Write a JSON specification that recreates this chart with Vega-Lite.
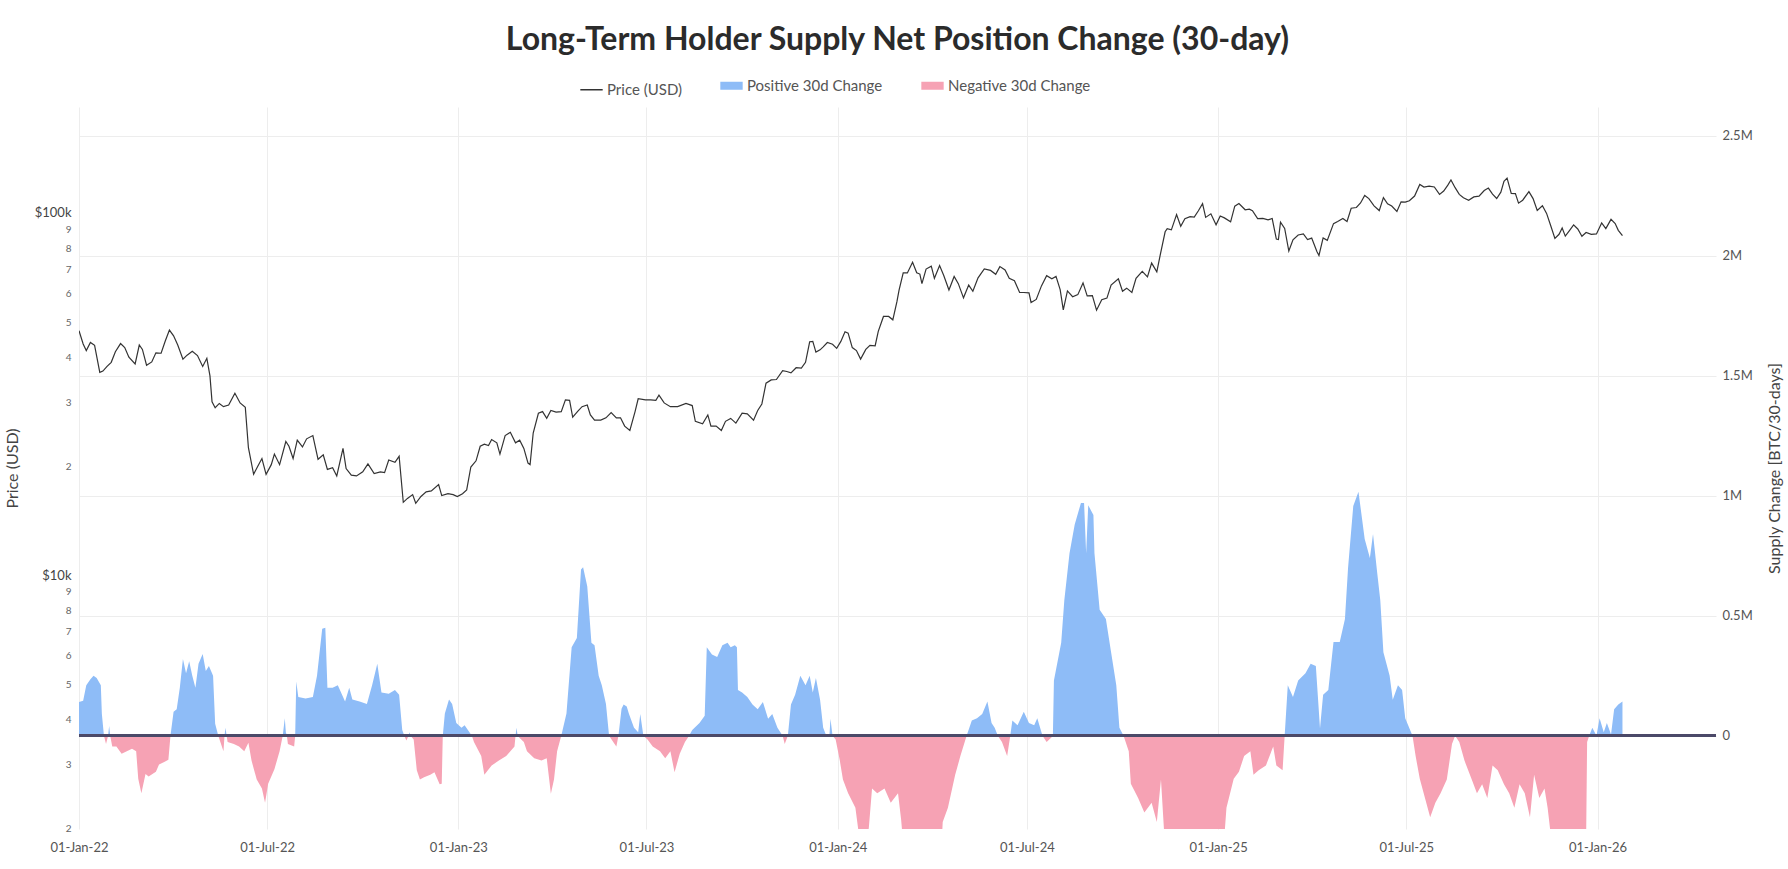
{
"$schema": "https://vega.github.io/schema/vega-lite/v6.json",
"width": 1637, "height": 722,
"autosize": {"type": "none"},
"padding": {"left": 79, "top": 107, "right": 72, "bottom": 40},
"background": "white",
"title": {"text": "Long-Term Holder Supply Net Position Change (30-day)", "font": "Lato", "fontSize": 32, "fontWeight": "bold", "color": "#2b2b2b", "anchor": "middle", "baseline": "alphabetic", "offset": -4},
"datasets": {
"price": [
{"date":"2022-01-01","price":47300},{"date":"2022-01-05","price":43500},{"date":"2022-01-08","price":41700},{"date":"2022-01-12","price":43900},{"date":"2022-01-16","price":43100},{"date":"2022-01-21","price":36300},{"date":"2022-01-24","price":36600},{"date":"2022-01-28","price":37700},{"date":"2022-02-01","price":38700},{"date":"2022-02-05","price":41400},{"date":"2022-02-10","price":43600},{"date":"2022-02-14","price":42500},{"date":"2022-02-18","price":40000},{"date":"2022-02-24","price":38300},{"date":"2022-02-28","price":43200},{"date":"2022-03-03","price":42000},{"date":"2022-03-07","price":38000},{"date":"2022-03-12","price":38800},{"date":"2022-03-16","price":41100},{"date":"2022-03-21","price":41000},{"date":"2022-03-25","price":44300},{"date":"2022-03-29","price":47500},{"date":"2022-04-02","price":45800},{"date":"2022-04-06","price":43200},{"date":"2022-04-11","price":39500},{"date":"2022-04-15","price":40500},{"date":"2022-04-20","price":41500},{"date":"2022-04-25","price":40400},{"date":"2022-04-30","price":37700},{"date":"2022-05-04","price":39700},{"date":"2022-05-07","price":35500},{"date":"2022-05-09","price":30100},{"date":"2022-05-12","price":29000},{"date":"2022-05-16","price":29800},{"date":"2022-05-20","price":29200},{"date":"2022-05-25","price":29500},{"date":"2022-05-31","price":31800},{"date":"2022-06-05","price":29900},{"date":"2022-06-10","price":29100},{"date":"2022-06-13","price":22500},{"date":"2022-06-18","price":19000},{"date":"2022-06-22","price":20000},{"date":"2022-06-26","price":21000},{"date":"2022-06-30","price":19000},{"date":"2022-07-05","price":20200},{"date":"2022-07-08","price":21600},{"date":"2022-07-13","price":20200},{"date":"2022-07-19","price":23400},{"date":"2022-07-22","price":22700},{"date":"2022-07-26","price":21000},{"date":"2022-07-30","price":23600},{"date":"2022-08-04","price":22600},{"date":"2022-08-08","price":23800},{"date":"2022-08-14","price":24300},{"date":"2022-08-19","price":20900},{"date":"2022-08-24","price":21500},{"date":"2022-08-28","price":19600},{"date":"2022-09-02","price":19800},{"date":"2022-09-06","price":18800},{"date":"2022-09-12","price":22400},{"date":"2022-09-15","price":19700},{"date":"2022-09-20","price":18900},{"date":"2022-09-25","price":18800},{"date":"2022-10-01","price":19300},{"date":"2022-10-06","price":20300},{"date":"2022-10-12","price":19100},{"date":"2022-10-18","price":19300},{"date":"2022-10-22","price":19200},{"date":"2022-10-26","price":20800},{"date":"2022-11-01","price":20500},{"date":"2022-11-05","price":21300},{"date":"2022-11-09","price":15900},{"date":"2022-11-13","price":16300},{"date":"2022-11-18","price":16700},{"date":"2022-11-21","price":15800},{"date":"2022-11-26","price":16500},{"date":"2022-12-01","price":17000},{"date":"2022-12-06","price":17100},{"date":"2022-12-13","price":17800},{"date":"2022-12-16","price":16600},{"date":"2022-12-22","price":16800},{"date":"2022-12-27","price":16700},{"date":"2022-12-31","price":16500},
{"date":"2023-01-05","price":16800},{"date":"2023-01-09","price":17200},{"date":"2023-01-13","price":19900},{"date":"2023-01-18","price":20700},{"date":"2023-01-22","price":22700},{"date":"2023-01-26","price":23000},{"date":"2023-01-30","price":22800},{"date":"2023-02-02","price":23700},{"date":"2023-02-07","price":23200},{"date":"2023-02-10","price":21600},{"date":"2023-02-15","price":24300},{"date":"2023-02-20","price":24800},{"date":"2023-02-25","price":23200},{"date":"2023-03-01","price":23600},{"date":"2023-03-05","price":22400},{"date":"2023-03-09","price":20400},{"date":"2023-03-11","price":20200},{"date":"2023-03-14","price":24700},{"date":"2023-03-19","price":28000},{"date":"2023-03-23","price":28300},{"date":"2023-03-27","price":27100},{"date":"2023-03-31","price":28500},{"date":"2023-04-05","price":28200},{"date":"2023-04-10","price":28300},{"date":"2023-04-14","price":30500},{"date":"2023-04-18","price":30400},{"date":"2023-04-21","price":27300},{"date":"2023-04-26","price":28400},{"date":"2023-04-30","price":29200},{"date":"2023-05-05","price":29500},{"date":"2023-05-08","price":27700},{"date":"2023-05-12","price":26800},{"date":"2023-05-18","price":26800},{"date":"2023-05-23","price":27200},{"date":"2023-05-28","price":28100},{"date":"2023-06-02","price":27200},{"date":"2023-06-06","price":27200},{"date":"2023-06-10","price":25800},{"date":"2023-06-15","price":25100},{"date":"2023-06-20","price":28300},{"date":"2023-06-23","price":30700},{"date":"2023-06-30","price":30500},{"date":"2023-07-05","price":30500},{"date":"2023-07-10","price":30400},{"date":"2023-07-13","price":31400},{"date":"2023-07-18","price":29900},{"date":"2023-07-24","price":29200},{"date":"2023-07-31","price":29200},{"date":"2023-08-08","price":29800},{"date":"2023-08-14","price":29400},{"date":"2023-08-17","price":26600},{"date":"2023-08-24","price":26200},{"date":"2023-08-29","price":27700},{"date":"2023-09-01","price":25800},{"date":"2023-09-06","price":25800},{"date":"2023-09-11","price":25100},{"date":"2023-09-15","price":26600},{"date":"2023-09-20","price":27100},{"date":"2023-09-25","price":26300},{"date":"2023-10-01","price":28000},{"date":"2023-10-06","price":27900},{"date":"2023-10-12","price":26800},{"date":"2023-10-16","price":28500},{"date":"2023-10-20","price":29700},{"date":"2023-10-24","price":33900},{"date":"2023-10-29","price":34600},{"date":"2023-11-03","price":34700},{"date":"2023-11-09","price":36700},{"date":"2023-11-13","price":36500},{"date":"2023-11-17","price":36200},{"date":"2023-11-22","price":37400},{"date":"2023-11-27","price":37300},{"date":"2023-12-01","price":38700},{"date":"2023-12-05","price":44100},{"date":"2023-12-08","price":44200},{"date":"2023-12-11","price":41300},{"date":"2023-12-15","price":41900},{"date":"2023-12-18","price":42700},{"date":"2023-12-22","price":43900},{"date":"2023-12-27","price":43400},{"date":"2023-12-31","price":42300},
{"date":"2024-01-04","price":44200},{"date":"2024-01-08","price":47000},{"date":"2024-01-11","price":46600},{"date":"2024-01-15","price":42500},{"date":"2024-01-19","price":41700},{"date":"2024-01-23","price":39500},{"date":"2024-01-28","price":42000},{"date":"2024-02-01","price":43100},{"date":"2024-02-06","price":43000},{"date":"2024-02-09","price":47100},{"date":"2024-02-14","price":51800},{"date":"2024-02-19","price":51800},{"date":"2024-02-23","price":50700},{"date":"2024-02-27","price":57000},{"date":"2024-02-29","price":61200},{"date":"2024-03-04","price":68300},{"date":"2024-03-08","price":68300},{"date":"2024-03-13","price":73100},{"date":"2024-03-17","price":68400},{"date":"2024-03-20","price":67800},{"date":"2024-03-22","price":63800},{"date":"2024-03-26","price":70000},{"date":"2024-03-31","price":71300},{"date":"2024-04-03","price":66000},{"date":"2024-04-08","price":71600},{"date":"2024-04-12","price":67200},{"date":"2024-04-17","price":61300},{"date":"2024-04-22","price":66800},{"date":"2024-04-26","price":63800},{"date":"2024-05-01","price":58300},{"date":"2024-05-06","price":63200},{"date":"2024-05-10","price":60800},{"date":"2024-05-15","price":66200},{"date":"2024-05-21","price":70100},{"date":"2024-05-27","price":69400},{"date":"2024-06-01","price":67700},{"date":"2024-06-05","price":71100},{"date":"2024-06-10","price":69600},{"date":"2024-06-14","price":66000},{"date":"2024-06-19","price":65000},{"date":"2024-06-24","price":60300},{"date":"2024-06-28","price":60300},{"date":"2024-07-03","price":60200},{"date":"2024-07-05","price":56600},{"date":"2024-07-10","price":57700},{"date":"2024-07-15","price":62900},{"date":"2024-07-20","price":67100},{"date":"2024-07-25","price":65800},{"date":"2024-07-29","price":66800},{"date":"2024-08-02","price":61400},{"date":"2024-08-05","price":54000},{"date":"2024-08-09","price":60900},{"date":"2024-08-14","price":58700},{"date":"2024-08-19","price":59500},{"date":"2024-08-24","price":64100},{"date":"2024-08-28","price":59000},{"date":"2024-09-02","price":59100},{"date":"2024-09-06","price":53900},{"date":"2024-09-11","price":57600},{"date":"2024-09-16","price":58200},{"date":"2024-09-20","price":63200},{"date":"2024-09-27","price":65800},{"date":"2024-10-01","price":60800},{"date":"2024-10-05","price":62000},{"date":"2024-10-10","price":60300},{"date":"2024-10-14","price":66000},{"date":"2024-10-20","price":69000},{"date":"2024-10-25","price":66600},{"date":"2024-10-29","price":72700},{"date":"2024-11-03","price":68800},{"date":"2024-11-06","price":75900},{"date":"2024-11-11","price":88700},{"date":"2024-11-13","price":90500},{"date":"2024-11-17","price":89800},{"date":"2024-11-22","price":98900},{"date":"2024-11-26","price":91900},{"date":"2024-11-30","price":96400},{"date":"2024-12-05","price":97700},{"date":"2024-12-09","price":97400},{"date":"2024-12-13","price":101400},{"date":"2024-12-17","price":106100},{"date":"2024-12-20","price":97200},{"date":"2024-12-25","price":99400},{"date":"2024-12-30","price":92700},
{"date":"2025-01-03","price":98100},{"date":"2025-01-07","price":96900},{"date":"2025-01-13","price":94500},{"date":"2025-01-17","price":104400},{"date":"2025-01-21","price":106100},{"date":"2025-01-27","price":102000},{"date":"2025-01-31","price":102400},{"date":"2025-02-03","price":101400},{"date":"2025-02-08","price":96500},{"date":"2025-02-13","price":96600},{"date":"2025-02-18","price":95700},{"date":"2025-02-22","price":96500},{"date":"2025-02-26","price":84700},{"date":"2025-02-28","price":84400},{"date":"2025-03-02","price":94300},{"date":"2025-03-06","price":90600},{"date":"2025-03-10","price":78500},{"date":"2025-03-14","price":84300},{"date":"2025-03-19","price":86900},{"date":"2025-03-24","price":87500},{"date":"2025-03-28","price":84400},{"date":"2025-04-01","price":85200},{"date":"2025-04-06","price":78300},{"date":"2025-04-08","price":76300},{"date":"2025-04-12","price":85300},{"date":"2025-04-16","price":84000},{"date":"2025-04-22","price":93400},{"date":"2025-04-26","price":94700},{"date":"2025-05-01","price":96500},{"date":"2025-05-05","price":94700},{"date":"2025-05-09","price":103000},{"date":"2025-05-14","price":103500},{"date":"2025-05-18","price":106500},{"date":"2025-05-22","price":111700},{"date":"2025-05-26","price":109500},{"date":"2025-05-31","price":104600},{"date":"2025-06-05","price":101500},{"date":"2025-06-09","price":110200},{"date":"2025-06-13","price":106000},{"date":"2025-06-17","price":104500},{"date":"2025-06-22","price":100900},{"date":"2025-06-26","price":107300},{"date":"2025-06-30","price":107100},{"date":"2025-07-04","price":108000},{"date":"2025-07-09","price":111300},{"date":"2025-07-14","price":119800},{"date":"2025-07-18","price":117900},{"date":"2025-07-23","price":118600},{"date":"2025-07-28","price":117900},{"date":"2025-08-02","price":112500},{"date":"2025-08-06","price":114900},{"date":"2025-08-10","price":119300},{"date":"2025-08-13","price":123300},{"date":"2025-08-17","price":117400},{"date":"2025-08-21","price":112500},{"date":"2025-08-25","price":110100},{"date":"2025-08-30","price":108400},{"date":"2025-09-04","price":110700},{"date":"2025-09-09","price":111200},{"date":"2025-09-14","price":115300},{"date":"2025-09-18","price":117100},{"date":"2025-09-22","price":112700},{"date":"2025-09-26","price":109600},{"date":"2025-09-30","price":114100},{"date":"2025-10-03","price":122200},{"date":"2025-10-06","price":124700},{"date":"2025-10-10","price":113200},{"date":"2025-10-14","price":113000},{"date":"2025-10-17","price":106400},{"date":"2025-10-21","price":108400},{"date":"2025-10-27","price":114500},{"date":"2025-10-31","price":109500},{"date":"2025-11-04","price":101600},{"date":"2025-11-09","price":104700},{"date":"2025-11-13","price":99700},{"date":"2025-11-17","price":92200},{"date":"2025-11-21","price":85000},{"date":"2025-11-25","price":87300},{"date":"2025-11-28","price":90900},{"date":"2025-12-01","price":86300},{"date":"2025-12-05","price":89400},{"date":"2025-12-09","price":92700},{"date":"2025-12-13","price":90300},{"date":"2025-12-17","price":86200},{"date":"2025-12-21","price":88300},{"date":"2025-12-26","price":87300},{"date":"2025-12-31","price":87500},{"date":"2026-01-05","price":93800},{"date":"2026-01-09","price":90500},{"date":"2026-01-14","price":96000},{"date":"2026-01-18","price":93500},{"date":"2026-01-21","price":89500},{"date":"2026-01-25","price":86500}
],
"supply": [
{"date":"2022-01-01","change":140000},{"date":"2022-01-05","change":145000},{"date":"2022-01-08","change":210000},{"date":"2022-01-12","change":235000},{"date":"2022-01-15","change":250000},{"date":"2022-01-18","change":240000},{"date":"2022-01-22","change":210000},{"date":"2022-01-23","change":90000},{"date":"2022-01-25","change":0},{"date":"2022-01-27","change":-35000},{"date":"2022-01-29","change":0},{"date":"2022-01-30","change":40000},{"date":"2022-01-31","change":0},{"date":"2022-02-02","change":-45000},{"date":"2022-02-06","change":-45000},{"date":"2022-02-11","change":-75000},{"date":"2022-02-16","change":-65000},{"date":"2022-02-21","change":-55000},{"date":"2022-02-25","change":-65000},{"date":"2022-02-27","change":-180000},{"date":"2022-03-02","change":-240000},{"date":"2022-03-06","change":-160000},{"date":"2022-03-09","change":-170000},{"date":"2022-03-16","change":-150000},{"date":"2022-03-19","change":-120000},{"date":"2022-03-24","change":-110000},{"date":"2022-03-28","change":-100000},{"date":"2022-03-30","change":0},{"date":"2022-04-02","change":100000},{"date":"2022-04-05","change":110000},{"date":"2022-04-08","change":200000},{"date":"2022-04-11","change":320000},{"date":"2022-04-14","change":260000},{"date":"2022-04-17","change":310000},{"date":"2022-04-20","change":250000},{"date":"2022-04-23","change":200000},{"date":"2022-04-26","change":300000},{"date":"2022-04-30","change":340000},{"date":"2022-05-03","change":270000},{"date":"2022-05-06","change":290000},{"date":"2022-05-10","change":250000},{"date":"2022-05-12","change":50000},{"date":"2022-05-15","change":0},{"date":"2022-05-17","change":-26000},{"date":"2022-05-20","change":-65000},{"date":"2022-05-21","change":0},{"date":"2022-05-22","change":33000},{"date":"2022-05-23","change":0},{"date":"2022-05-24","change":-26000},{"date":"2022-05-30","change":-35000},{"date":"2022-06-04","change":-45000},{"date":"2022-06-09","change":-65000},{"date":"2022-06-13","change":-30000},{"date":"2022-06-16","change":-104000},{"date":"2022-06-21","change":-183000},{"date":"2022-06-26","change":-220000},{"date":"2022-06-29","change":-280000},{"date":"2022-07-02","change":-200000},{"date":"2022-07-08","change":-140000},{"date":"2022-07-13","change":-65000},{"date":"2022-07-16","change":0},{"date":"2022-07-18","change":73000},{"date":"2022-07-19","change":14000},{"date":"2022-07-20","change":0},{"date":"2022-07-21","change":-35000},{"date":"2022-07-27","change":-45000},{"date":"2022-07-28","change":0},{"date":"2022-07-29","change":226000},{"date":"2022-07-31","change":161000},{"date":"2022-08-07","change":155000},{"date":"2022-08-14","change":161000},{"date":"2022-08-18","change":250000},{"date":"2022-08-23","change":446000},{"date":"2022-08-26","change":450000},{"date":"2022-08-28","change":200000},{"date":"2022-09-02","change":200000},{"date":"2022-09-07","change":210000},{"date":"2022-09-14","change":142000},{"date":"2022-09-18","change":200000},{"date":"2022-09-21","change":151000},{"date":"2022-09-28","change":142000},{"date":"2022-10-05","change":132000},{"date":"2022-10-10","change":210000},{"date":"2022-10-15","change":300000},{"date":"2022-10-19","change":180000},{"date":"2022-10-26","change":175000},{"date":"2022-11-01","change":190000},{"date":"2022-11-05","change":171000},{"date":"2022-11-08","change":24000},{"date":"2022-11-10","change":0},{"date":"2022-11-12","change":-20000},{"date":"2022-11-14","change":0},{"date":"2022-11-15","change":14000},{"date":"2022-11-16","change":0},{"date":"2022-11-19","change":-16000},{"date":"2022-11-22","change":-144000},{"date":"2022-11-25","change":-183000},{"date":"2022-11-29","change":-173000},{"date":"2022-12-05","change":-163000},{"date":"2022-12-09","change":-153000},{"date":"2022-12-14","change":-203000},{"date":"2022-12-16","change":-200000},{"date":"2022-12-17","change":0},{"date":"2022-12-19","change":92000},{"date":"2022-12-23","change":151000},{"date":"2022-12-26","change":132000},{"date":"2022-12-30","change":53000},
{"date":"2023-01-04","change":33000},{"date":"2023-01-07","change":43000},{"date":"2023-01-14","change":0},{"date":"2023-01-16","change":-26000},{"date":"2023-01-23","change":-85000},{"date":"2023-01-26","change":-163000},{"date":"2023-02-02","change":-124000},{"date":"2023-02-09","change":-104000},{"date":"2023-02-16","change":-85000},{"date":"2023-02-24","change":-45000},{"date":"2023-02-25","change":0},{"date":"2023-02-26","change":33000},{"date":"2023-02-27","change":0},{"date":"2023-03-01","change":-10000},{"date":"2023-03-05","change":-26000},{"date":"2023-03-08","change":-65000},{"date":"2023-03-15","change":-94000},{"date":"2023-03-22","change":-104000},{"date":"2023-03-27","change":-94000},{"date":"2023-03-31","change":-242000},{"date":"2023-04-03","change":-183000},{"date":"2023-04-06","change":-65000},{"date":"2023-04-10","change":0},{"date":"2023-04-15","change":92000},{"date":"2023-04-20","change":368000},{"date":"2023-04-25","change":407000},{"date":"2023-04-29","change":692000},{"date":"2023-05-01","change":702000},{"date":"2023-05-04","change":643000},{"date":"2023-05-05","change":623000},{"date":"2023-05-09","change":387000},{"date":"2023-05-12","change":377000},{"date":"2023-05-16","change":250000},{"date":"2023-05-19","change":210000},{"date":"2023-05-23","change":132000},{"date":"2023-05-26","change":0},{"date":"2023-05-30","change":-26000},{"date":"2023-06-02","change":-45000},{"date":"2023-06-04","change":0},{"date":"2023-06-07","change":112000},{"date":"2023-06-09","change":130000},{"date":"2023-06-12","change":122000},{"date":"2023-06-14","change":92000},{"date":"2023-06-19","change":33000},{"date":"2023-06-23","change":14000},{"date":"2023-06-25","change":90000},{"date":"2023-06-28","change":0},{"date":"2023-07-02","change":-16000},{"date":"2023-07-07","change":-45000},{"date":"2023-07-14","change":-65000},{"date":"2023-07-19","change":-94000},{"date":"2023-07-24","change":-65000},{"date":"2023-07-28","change":-153000},{"date":"2023-08-02","change":-75000},{"date":"2023-08-07","change":-26000},{"date":"2023-08-11","change":0},{"date":"2023-08-14","change":24000},{"date":"2023-08-21","change":53000},{"date":"2023-08-26","change":83000},{"date":"2023-08-28","change":368000},{"date":"2023-09-02","change":338000},{"date":"2023-09-07","change":328000},{"date":"2023-09-12","change":377000},{"date":"2023-09-17","change":387000},{"date":"2023-09-20","change":368000},{"date":"2023-09-24","change":377000},{"date":"2023-09-26","change":368000},{"date":"2023-09-27","change":190000},{"date":"2023-10-01","change":180000},{"date":"2023-10-06","change":161000},{"date":"2023-10-11","change":130000},{"date":"2023-10-16","change":110000},{"date":"2023-10-21","change":140000},{"date":"2023-10-26","change":70000},{"date":"2023-10-30","change":90000},{"date":"2023-11-04","change":33000},{"date":"2023-11-09","change":0},{"date":"2023-11-11","change":-35000},{"date":"2023-11-14","change":0},{"date":"2023-11-17","change":130000},{"date":"2023-11-21","change":170000},{"date":"2023-11-26","change":250000},{"date":"2023-12-01","change":210000},{"date":"2023-12-05","change":250000},{"date":"2023-12-08","change":180000},{"date":"2023-12-11","change":240000},{"date":"2023-12-15","change":150000},{"date":"2023-12-18","change":33000},{"date":"2023-12-21","change":0},{"date":"2023-12-23","change":-6000},{"date":"2023-12-24","change":0},{"date":"2023-12-25","change":70000},{"date":"2023-12-27","change":0},{"date":"2023-12-30","change":-16000},
{"date":"2024-01-03","change":-104000},{"date":"2024-01-06","change":-183000},{"date":"2024-01-11","change":-240000},{"date":"2024-01-18","change":-300000},{"date":"2024-01-21","change":-400000},{"date":"2024-01-23","change":-450000},{"date":"2024-01-29","change":-450000},{"date":"2024-01-31","change":-380000},{"date":"2024-02-03","change":-220000},{"date":"2024-02-08","change":-240000},{"date":"2024-02-15","change":-220000},{"date":"2024-02-21","change":-280000},{"date":"2024-02-28","change":-240000},{"date":"2024-03-02","change":-350000},{"date":"2024-03-04","change":-450000},{"date":"2024-03-23","change":-500000},{"date":"2024-04-10","change":-450000},{"date":"2024-04-11","change":-360000},{"date":"2024-04-16","change":-300000},{"date":"2024-04-23","change":-163000},{"date":"2024-04-28","change":-85000},{"date":"2024-05-04","change":0},{"date":"2024-05-09","change":63000},{"date":"2024-05-14","change":73000},{"date":"2024-05-19","change":90000},{"date":"2024-05-24","change":142000},{"date":"2024-05-28","change":53000},{"date":"2024-05-31","change":33000},{"date":"2024-06-03","change":0},{"date":"2024-06-07","change":-26000},{"date":"2024-06-12","change":-85000},{"date":"2024-06-15","change":0},{"date":"2024-06-17","change":63000},{"date":"2024-06-22","change":43000},{"date":"2024-06-28","change":100000},{"date":"2024-07-03","change":53000},{"date":"2024-07-08","change":43000},{"date":"2024-07-11","change":73000},{"date":"2024-07-15","change":14000},{"date":"2024-07-16","change":0},{"date":"2024-07-20","change":-26000},{"date":"2024-07-25","change":-6000},{"date":"2024-07-26","change":0},{"date":"2024-07-27","change":230000},{"date":"2024-08-03","change":387000},{"date":"2024-08-06","change":564000},{"date":"2024-08-11","change":760000},{"date":"2024-08-16","change":880000},{"date":"2024-08-22","change":970000},{"date":"2024-08-25","change":970000},{"date":"2024-08-27","change":760000},{"date":"2024-08-29","change":960000},{"date":"2024-09-03","change":920000},{"date":"2024-09-04","change":760000},{"date":"2024-09-09","change":525000},{"date":"2024-09-15","change":486000},{"date":"2024-09-20","change":348000},{"date":"2024-09-25","change":210000},{"date":"2024-09-28","change":33000},{"date":"2024-10-02","change":0},{"date":"2024-10-07","change":-65000},{"date":"2024-10-09","change":-200000},{"date":"2024-10-16","change":-260000},{"date":"2024-10-22","change":-320000},{"date":"2024-10-29","change":-280000},{"date":"2024-11-03","change":-360000},{"date":"2024-11-07","change":-183000},{"date":"2024-11-10","change":-400000},{"date":"2024-11-12","change":-450000},{"date":"2024-12-10","change":-500000},
{"date":"2025-01-06","change":-480000},{"date":"2025-01-09","change":-300000},{"date":"2025-01-16","change":-180000},{"date":"2025-01-21","change":-150000},{"date":"2025-01-26","change":-85000},{"date":"2025-02-01","change":-65000},{"date":"2025-02-04","change":-163000},{"date":"2025-02-09","change":-144000},{"date":"2025-02-16","change":-124000},{"date":"2025-02-23","change":-45000},{"date":"2025-02-26","change":-124000},{"date":"2025-03-04","change":-144000},{"date":"2025-03-06","change":0},{"date":"2025-03-09","change":210000},{"date":"2025-03-14","change":161000},{"date":"2025-03-19","change":230000},{"date":"2025-03-26","change":260000},{"date":"2025-03-31","change":300000},{"date":"2025-04-05","change":290000},{"date":"2025-04-09","change":30000},{"date":"2025-04-12","change":170000},{"date":"2025-04-17","change":190000},{"date":"2025-04-22","change":390000},{"date":"2025-04-28","change":390000},{"date":"2025-05-03","change":486000},{"date":"2025-05-06","change":700000},{"date":"2025-05-11","change":957000},{"date":"2025-05-16","change":1017000},{"date":"2025-05-22","change":820000},{"date":"2025-05-27","change":740000},{"date":"2025-05-30","change":840000},{"date":"2025-06-03","change":680000},{"date":"2025-06-06","change":564000},{"date":"2025-06-09","change":348000},{"date":"2025-06-15","change":250000},{"date":"2025-06-18","change":150000},{"date":"2025-06-23","change":210000},{"date":"2025-06-27","change":190000},{"date":"2025-06-30","change":73000},{"date":"2025-07-07","change":0},{"date":"2025-07-10","change":-85000},{"date":"2025-07-14","change":-180000},{"date":"2025-07-19","change":-260000},{"date":"2025-07-24","change":-340000},{"date":"2025-07-29","change":-280000},{"date":"2025-08-03","change":-240000},{"date":"2025-08-09","change":-183000},{"date":"2025-08-14","change":-35000},{"date":"2025-08-17","change":0},{"date":"2025-08-21","change":-26000},{"date":"2025-08-26","change":-104000},{"date":"2025-09-02","change":-183000},{"date":"2025-09-07","change":-240000},{"date":"2025-09-12","change":-203000},{"date":"2025-09-17","change":-260000},{"date":"2025-09-22","change":-124000},{"date":"2025-09-27","change":-144000},{"date":"2025-10-03","change":-203000},{"date":"2025-10-08","change":-240000},{"date":"2025-10-13","change":-300000},{"date":"2025-10-18","change":-203000},{"date":"2025-10-23","change":-240000},{"date":"2025-10-28","change":-340000},{"date":"2025-11-01","change":-163000},{"date":"2025-11-06","change":-260000},{"date":"2025-11-11","change":-220000},{"date":"2025-11-14","change":-300000},{"date":"2025-11-18","change":-450000},{"date":"2025-12-05","change":-500000},{"date":"2025-12-21","change":-450000},{"date":"2025-12-22","change":-26000},{"date":"2025-12-24","change":0},{"date":"2025-12-27","change":33000},{"date":"2025-12-31","change":0},{"date":"2026-01-03","change":73000},{"date":"2026-01-07","change":14000},{"date":"2026-01-10","change":53000},{"date":"2026-01-14","change":5000},{"date":"2026-01-17","change":110000},{"date":"2026-01-21","change":130000},{"date":"2026-01-25","change":142000}
]
},
"encoding": {
"x": {"field": "date", "type": "temporal",
"scale": {"type": "utc", "domain": [{"year": 2022, "month": "jan", "date": 1, "utc": true}, {"year": 2026, "month": "apr", "date": 25, "utc": true}]},
"axis": {"title": null, "format": "%d-%b-%y", "formatType": "time",
"values": [{"year": 2022, "month": "jan", "date": 1, "utc": true}, {"year": 2022, "month": "jul", "date": 1, "utc": true}, {"year": 2023, "month": "jan", "date": 1, "utc": true}, {"year": 2023, "month": "jul", "date": 1, "utc": true}, {"year": 2024, "month": "jan", "date": 1, "utc": true}, {"year": 2024, "month": "jul", "date": 1, "utc": true}, {"year": 2025, "month": "jan", "date": 1, "utc": true}, {"year": 2025, "month": "jul", "date": 1, "utc": true}, {"year": 2026, "month": "jan", "date": 1, "utc": true}],
"labelExpr": "utcFormat(datum.value, '%d-%b-%y')",
"labelFlush": false, "labelOverlap": false,
"grid": true, "gridColor": "#ededed", "domain": false, "ticks": false, "labelPadding": 12, "labelFontSize": 13, "labelColor": "#555555", "labelFont": "Lato"}}
},
"layer": [
{
"data": {"name": "supply"},
"layer": [
{
"transform": [{"filter": "datum.change >= 0"}],
"mark": {"type": "area", "clip": true},
"encoding": {
"y": {"field": "change", "type": "quantitative",
"scale": {"domain": [-389000, 2620000], "nice": false, "zero": false},
"axis": {"orient": "right", "values": [0, 500000, 1000000, 1500000, 2000000, 2500000],
"labelExpr": "datum.value == 0 ? '0' : format(datum.value / 1000000, '~g') + 'M'",
"grid": true, "gridColor": "#ededed", "domain": false, "ticks": false, "labelPadding": 6, "labelFontSize": 13, "labelColor": "#555555", "labelFont": "Lato",
"title": "Supply Change [BTC/30-days]", "titleFont": "Lato", "titleFontSize": 16, "titleFontWeight": "normal", "titleColor": "#444444", "titleAngle": 270, "titleX": 58, "titleY": 361, "titleAlign": "center", "titleBaseline": "middle"}},
"color": {"datum": "Positive 30d Change",
"scale": {"domain": ["Price (USD)", "Positive 30d Change", "Negative 30d Change"], "range": ["#333333", "#8ebcf7", "#f6a2b4"]},
"legend": {"title": null, "orient": "none", "legendX": 505, "legendY": -29, "direction": "horizontal",
"symbolType": "stroke", "symbolSize": 500, "labelFont": "Lato", "labelFontSize": 15, "labelColor": "#555555", "labelOffset": 8, "columnPadding": 22,
"encode": {"symbols": {"update": {"strokeWidth": {"signal": "datum.value === 'Price (USD)' ? 1.5 : 8"}, "stroke": {"scale": "color", "field": "value"}}}}}}
}
},
{
"transform": [{"filter": "datum.change <= 0"}],
"mark": {"type": "area", "clip": true},
"encoding": {
"y": {"field": "change", "type": "quantitative"},
"color": {"datum": "Negative 30d Change"}
}
},
{
"mark": {"type": "rule", "color": "#4b4a68", "strokeWidth": 2},
"encoding": {"x": null, "y": {"datum": 0, "type": "quantitative"}}
}
]
},
{
"data": {"name": "price"},
"mark": {"type": "line", "strokeWidth": 1.2, "clip": true},
"encoding": {
"y": {"field": "price", "type": "quantitative",
"scale": {"type": "log", "domain": [1995, 196000], "nice": false},
"axis": {"orient": "left", "values": [2000, 3000, 4000, 5000, 6000, 7000, 8000, 9000, 10000, 20000, 30000, 40000, 50000, 60000, 70000, 80000, 90000, 100000],
"labelExpr": "datum.value == 100000 ? '$100k' : datum.value == 10000 ? '$10k' : datum.value > 10000 ? format(datum.value / 10000, 'd') : format(datum.value / 1000, 'd')",
"labelFontSize": {"condition": {"test": "datum.value == 100000 || datum.value == 10000", "value": 13}, "value": 10},
"labelColor": {"condition": {"test": "datum.value == 100000 || datum.value == 10000", "value": "#444444"}, "value": "#666666"},
"grid": false, "domain": false, "ticks": false, "labelPadding": 8, "labelFont": "Lato",
"title": "Price (USD)", "titleFont": "Lato", "titleFontSize": 16, "titleFontWeight": "normal", "titleColor": "#444444", "titleAngle": 270, "titleX": -67, "titleY": 361, "titleAlign": "center", "titleBaseline": "middle"}},
"color": {"datum": "Price (USD)"}
}
}
],
"resolve": {"scale": {"y": "independent"}, "axis": {"y": "independent"}},
"config": {"view": {"stroke": null}, "font": "Lato"}
}
